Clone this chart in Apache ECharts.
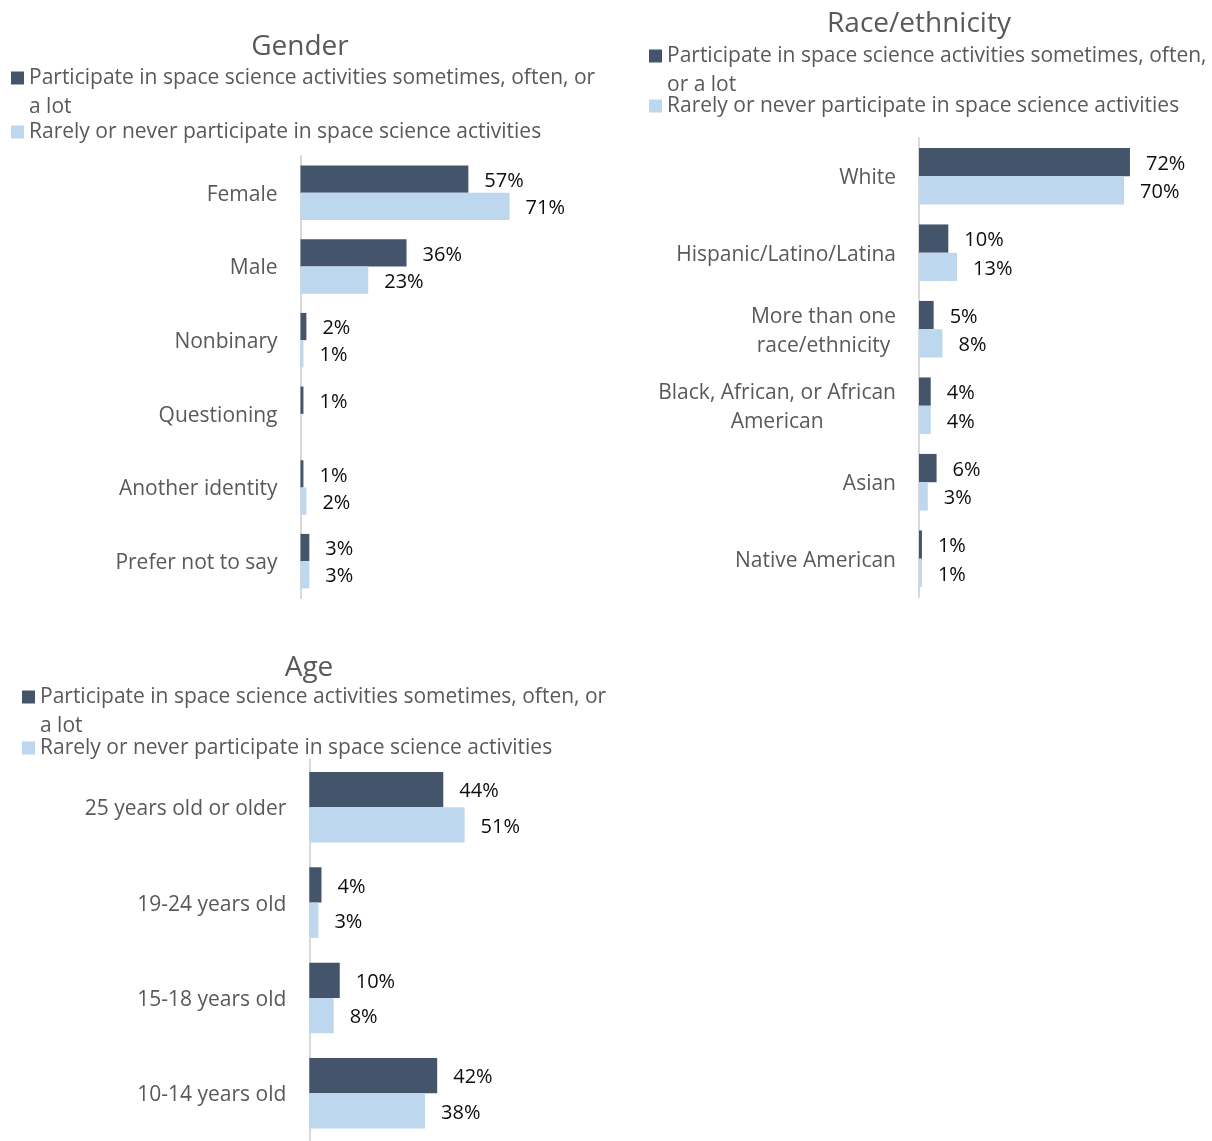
<!DOCTYPE html>
<html>
<head>
<meta charset="utf-8">
<script src="https://cdn.jsdelivr.net/npm/echarts@6.0.0/dist/echarts.min.js"></script>
<style>
  html, body { margin: 0; padding: 0; background: #ffffff; }
  #chart { width: 1212px; height: 1141px; }
</style>
</head>
<body>
<div id="chart"></div>
<script>
// Series names shared by the three panels
const ACTIVE = 'Participate in space science activities sometimes, often, or a lot';
const RARE = 'Rarely or never participate in space science activities';

// Gender
const genderCategories = ['Female', 'Male', 'Nonbinary', 'Questioning', 'Another identity', 'Prefer not to say'];
const genderActive = [57, 36, 2, 1, 1, 3];
const genderRare = [71, 23, 1, null, 2, 3];

// Race/ethnicity
const raceCategories = ['White', 'Hispanic/Latino/Latina', 'More than one\nrace/ethnicity',
  'Black, African, or African\nAmerican', 'Asian', 'Native American'];
const raceActive = [72, 10, 5, 4, 6, 1];
const raceRare = [70, 13, 8, 4, 3, 1];

// Age
const ageCategories = ['25 years old or older', '19-24 years old', '15-18 years old', '10-14 years old'];
const ageActive = [44, 4, 10, 42];
const ageRare = [51, 3, 8, 38];

const FONT = '"Open Sans", "Noto Sans", sans-serif';
const DARK = '#44546A';
const LIGHT = '#BDD7EE';
const GREY_TEXT = '#595959';
const CAT_SIZE = 21;
const VALUE_SIZE = 20;
const LEGEND_SIZE = 21;
const LINE_H = 29;

const chart = echarts.init(document.getElementById('chart'), null, { renderer: 'canvas' });

// Panel frames: plot area and heading/legend anchors
const panels = [
  { title: 'Gender', cats: genderCategories, active: genderActive, rare: genderRare,
    grid: { left: 300.5, top: 156, width: 294.5, height: 442 },
    titleX: 300, titleY: 45, legendX: 11, activeY: 76, rareY: 130,
    wrap: n => n.replace(' a lot', '\na lot') },
  { title: 'Race/ethnicity', cats: raceCategories, active: raceActive, rare: raceRare,
    grid: { left: 919, top: 138, width: 294.4, height: 459 },
    titleX: 919, titleY: 22, legendX: 649, activeY: 54, rareY: 104,
    wrap: n => n.replace(' or a lot', '\nor a lot') },
  { title: 'Age', cats: ageCategories, active: ageActive, rare: ageRare,
    grid: { left: 309.3, top: 759.5, width: 304.5, height: 385 },
    titleX: 309, titleY: 666, legendX: 22, activeY: 695, rareY: 746,
    wrap: n => n.replace(' a lot', '\na lot') }
];

const option = {
  backgroundColor: '#ffffff',
  animation: false,
  textStyle: { fontFamily: FONT },
  title: [], legend: [], grid: [], xAxis: [], yAxis: [], series: []
};

// Category names: each line centred inside a right-aligned block
const catFormatter = v => v.split('\n').map(s => '{c|' + s + '}').join('\n');
const valueLabel = p => (p.value == null ? '' : p.value + '%');

panels.forEach((p, i) => {
  option.title.push({
    text: p.title, left: p.titleX, top: p.titleY - 15, textAlign: 'center', padding: 0,
    textStyle: { fontFamily: FONT, fontSize: 28, fontWeight: 'normal', color: GREY_TEXT, lineHeight: 34 }
  });
  // two-line entry: an empty leading line keeps the first text line level with the swatch
  option.legend.push({
    data: [ACTIVE], left: p.legendX, top: p.activeY - 41.5, padding: 0,
    icon: 'rect', itemWidth: 13, itemHeight: 13, selectedMode: false,
    formatter: n => '\n' + p.wrap(n),
    textStyle: { fontFamily: FONT, fontSize: LEGEND_SIZE, color: GREY_TEXT, lineHeight: LINE_H }
  });
  option.legend.push({
    data: [RARE], left: p.legendX, top: p.rareY - 12.5, padding: 0,
    icon: 'rect', itemWidth: 13, itemHeight: 13, selectedMode: false,
    textStyle: { fontFamily: FONT, fontSize: LEGEND_SIZE, color: GREY_TEXT, lineHeight: LINE_H }
  });
  option.grid.push(Object.assign({ containLabel: false }, p.grid));
  option.xAxis.push({
    gridIndex: i, type: 'value', min: 0, max: 100, show: false
  });
  option.yAxis.push({
    gridIndex: i, type: 'category', data: p.cats, inverse: true,
    axisTick: { show: false },
    axisLine: { show: true, lineStyle: { color: '#D9D9D9', width: 2 } },
    splitLine: { show: false },
    axisLabel: {
      margin: 23, align: 'right', formatter: catFormatter, padding: [4, 0, 0, 0],
      rich: { c: { align: 'center', fontFamily: FONT, fontSize: CAT_SIZE, color: GREY_TEXT, lineHeight: LINE_H } }
    }
  });
  [[ACTIVE, p.active, DARK], [RARE, p.rare, LIGHT]].forEach(([name, data, color]) => {
    option.series.push({
      type: 'bar', name: name, data: data, xAxisIndex: i, yAxisIndex: i,
      barGap: '0%', barCategoryGap: '26%',
      itemStyle: { color: color },
      label: {
        show: true, position: 'right', distance: 16, offset: [0, 2], formatter: valueLabel,
        fontFamily: FONT, fontSize: VALUE_SIZE, color: '#0d0d0d'
      }
    });
  });
});

chart.setOption(option);
</script>
</body>
</html>
